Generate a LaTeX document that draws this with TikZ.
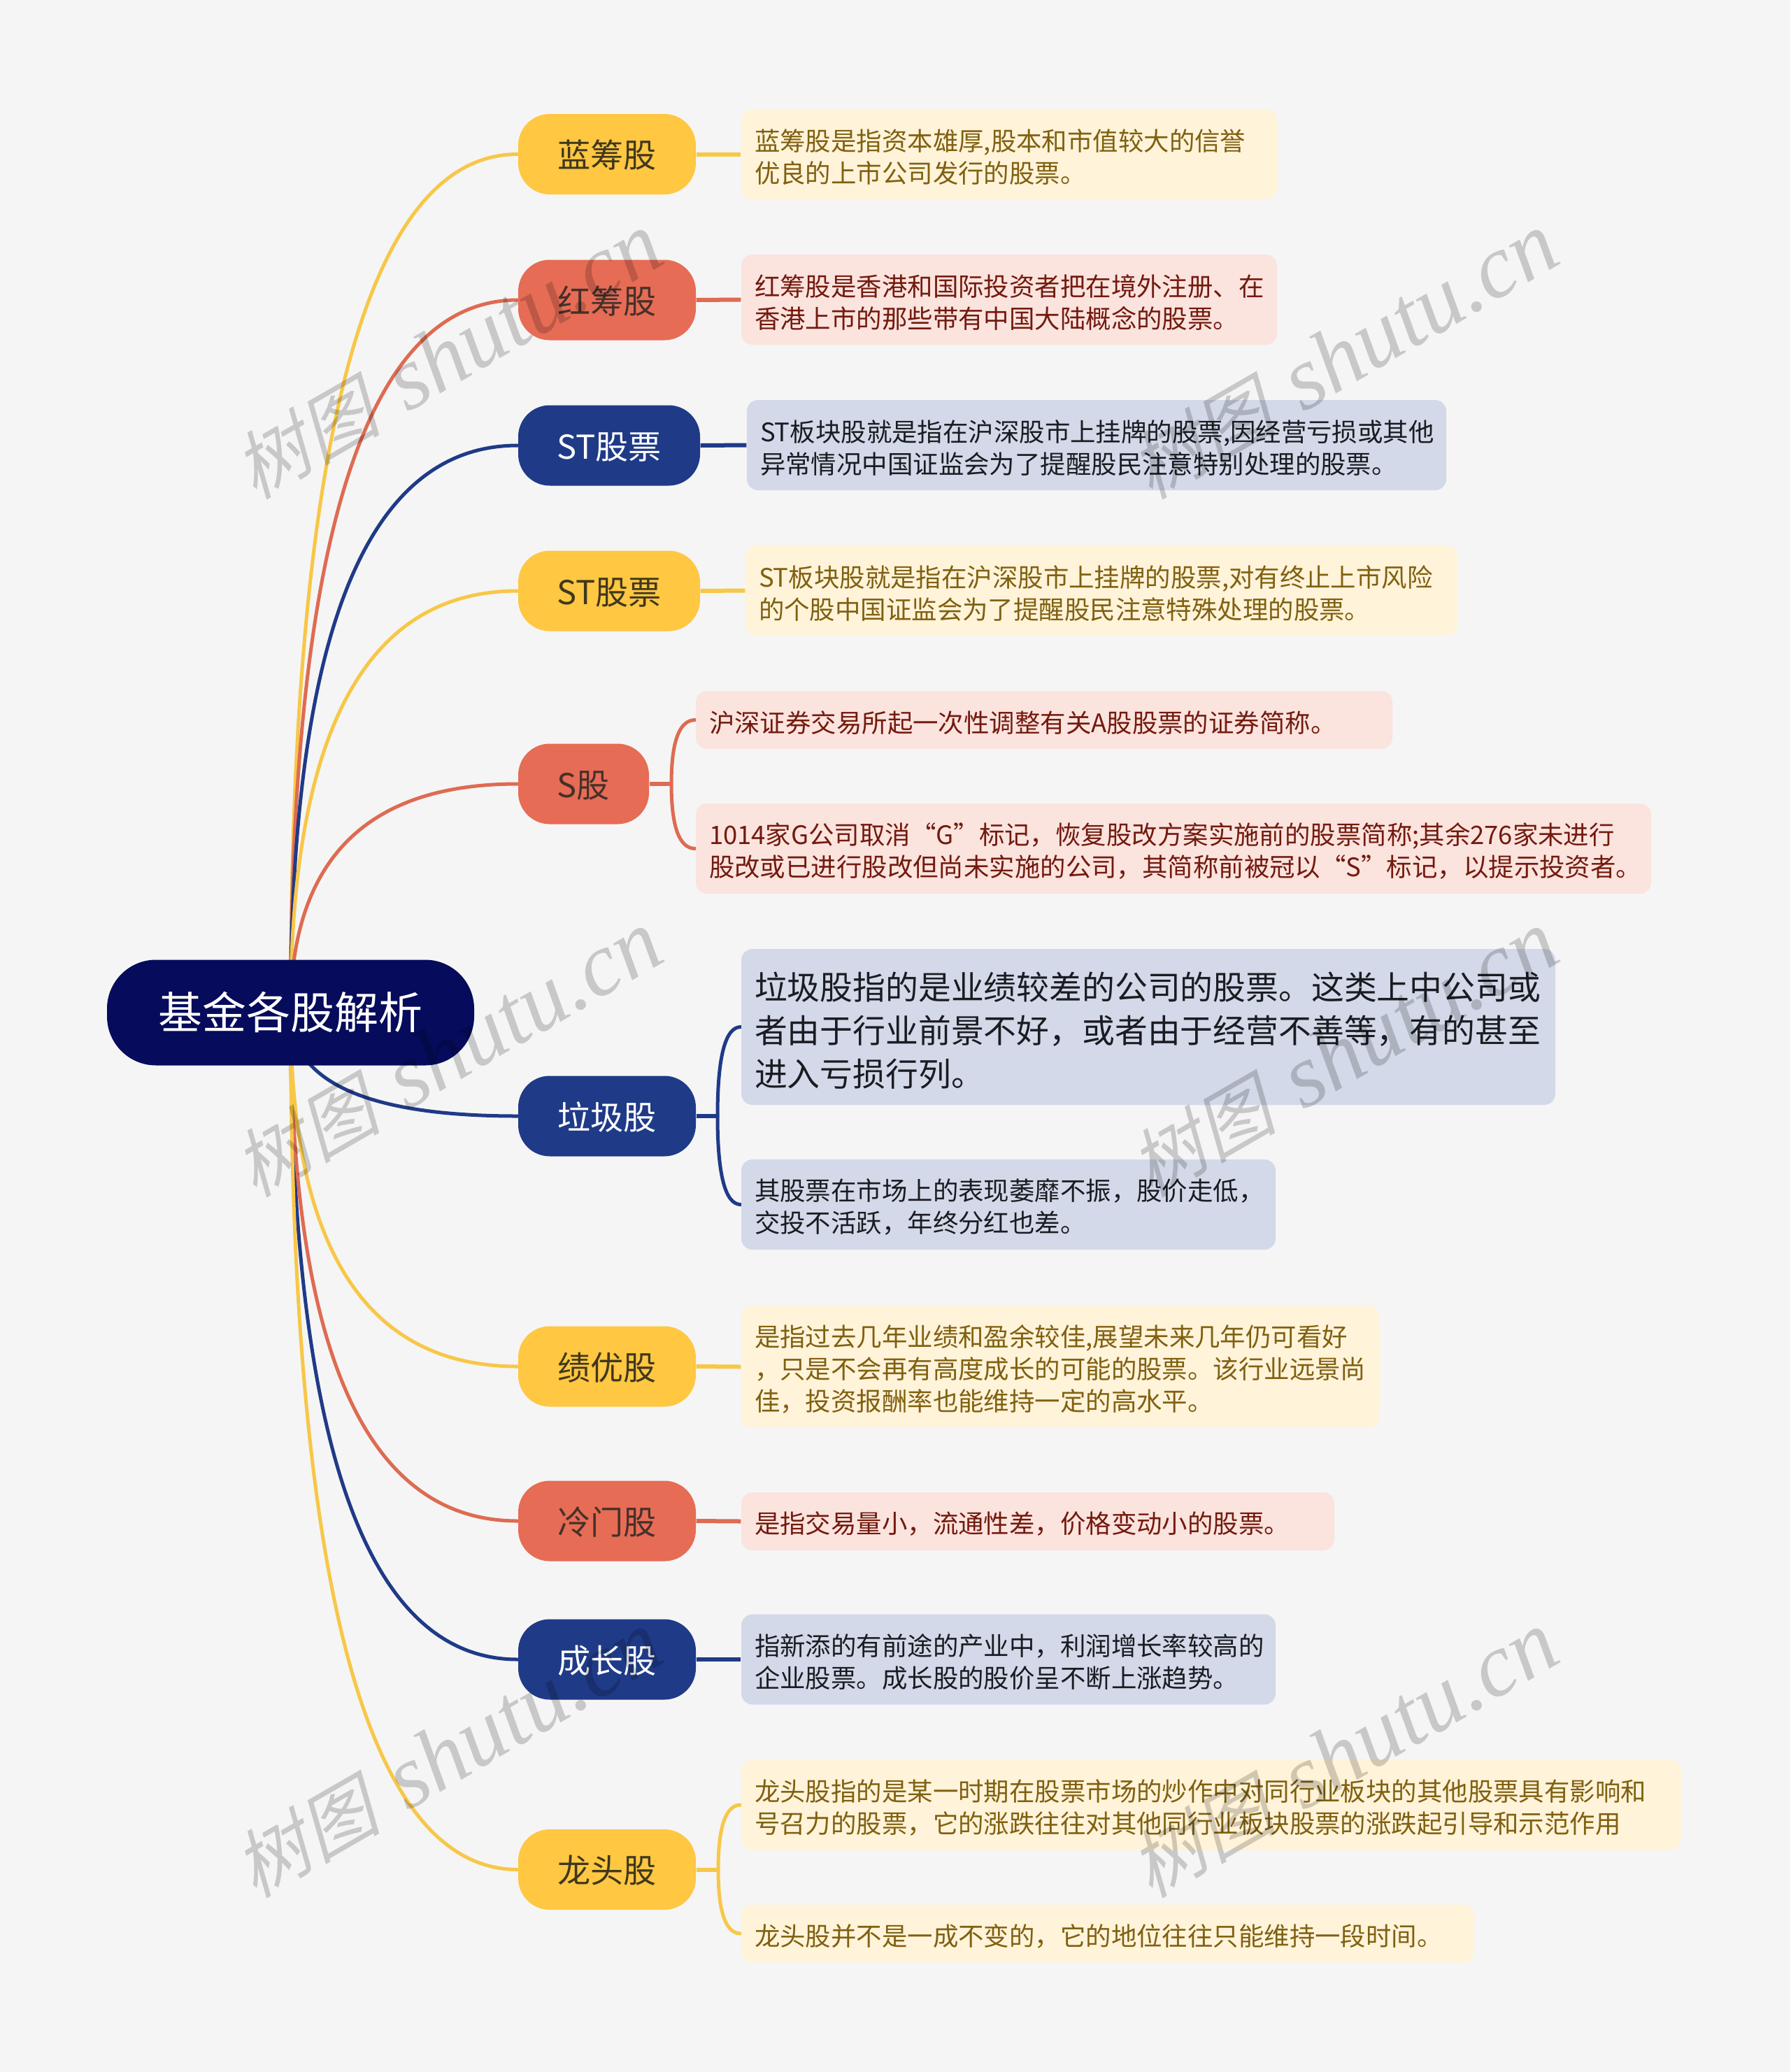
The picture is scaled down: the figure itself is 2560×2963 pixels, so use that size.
\documentclass[tikz,border=0pt]{standalone}
\usepackage{fontspec}
\setmainfont{Noto Sans CJK SC}
\newfontfamily\wmcjk[FakeSlant=0.25]{Noto Sans CJK SC}
\newfontfamily\wmlat{Liberation Serif}[ItalicFont=* Italic]
\usetikzlibrary{calc,backgrounds}
\definecolor{bgc}{HTML}{F5F5F5}
\definecolor{rootc}{HTML}{060B5B}
\definecolor{yel}{HTML}{FFC742}
\definecolor{yell}{HTML}{FFF3D9}
\definecolor{yelt}{HTML}{806010}
\definecolor{yeln}{HTML}{40381C}
\definecolor{red}{HTML}{E66C55}
\definecolor{redl}{HTML}{FBE3DE}
\definecolor{redt}{HTML}{731A0E}
\definecolor{redn}{HTML}{46302A}
\definecolor{nav}{HTML}{1F3A87}
\definecolor{navl}{HTML}{D3D9E8}
\definecolor{navt}{HTML}{1A1C22}
\definecolor{yelw}{HTML}{F7C748}
\definecolor{redw}{HTML}{DE6B52}
\tikzset{
 branch/.style n args={3}{draw=none,fill=#1,text=#2,minimum width=#3*0.01cm,minimum height=115*0.01cm,rounded corners=0.45cm,inner sep=0pt,text height=0.38cm,text depth=0cm,font=\fontsize{13.4}{16}\selectfont},
 leaf/.style n args={4}{fill=#1,text=#2,text width=#3*0.01cm-38*0.01cm,inner xsep=19*0.01cm,inner ysep=0pt,minimum height=#4*0.01cm,rounded corners=0.16cm,align=left,font=\fontsize{10.36}{13.09}\selectfont,execute at begin node={\rule{0pt}{1.05em}}},
 wire/.style={draw=#1,line width=0.05cm,line cap=round},
 stem/.style={draw=#1,line width=0.06cm},
 wmark/.style={text=black,opacity=0.18,rotate=30,inner sep=0pt},
}
% quadratic curve from #2 to #3 with control at (#2 |- #3)
\newcommand{\qcurve}[3]{\draw[wire=#1] (#2) .. controls ($(#2)!0.667!(#2 |- #3)$) and ($(#3)!0.667!(#2 |- #3)$) .. (#3);}
\newcommand{\wm}[1]{\node[wmark] at (#1) {{\fontsize{30}{34}\selectfont\wmcjk 树图}\hspace{0.4cm}{\fontsize{36.5}{34}\selectfont\wmlat\itshape shutu.cn}};}
\begin{document}
\begin{tikzpicture}[x=0.01cm,y=-0.01cm]
\useasboundingbox (0,0) rectangle (2560,2963);
\node[fill=rootc,text=white,minimum width=525*0.01cm,minimum height=151*0.01cm,rounded corners=0.7cm,inner sep=0pt,text height=0.47cm,text depth=0cm,font=\fontsize{17.9}{20}\selectfont] (root) at (415.5,1448) {基金各股解析};

\node[branch={yel}{yeln}{254}] (n1) at (868,220.5) {蓝筹股};
\node[branch={red}{redn}{254}] (n2) at (868,429) {红筹股};
\node[branch={nav}{white}{260}] (n3) at (871,637) {ST股票};
\node[branch={yel}{yeln}{260}] (n4) at (871,845) {ST股票};
\node[branch={red}{redn}{187}] (n5) at (834.5,1121) {S股};
\node[branch={nav}{white}{254}] (n6) at (868,1596) {垃圾股};
\node[branch={yel}{yeln}{254}] (n7) at (868,1954) {绩优股};
\node[branch={red}{redn}{254}] (n8) at (868,2175) {冷门股};
\node[branch={nav}{white}{254}] (n9) at (868,2373) {成长股};
\node[branch={yel}{yeln}{254}] (n10) at (868,2673.5) {龙头股};

\node[leaf={yell}{yelt}{766}{129}] (d1) at (1443,220.5) {蓝筹股是指资本雄厚,股本和市值较大的信誉\\优良的上市公司发行的股票。};
\node[leaf={redl}{redt}{766}{129}] (d2) at (1443,428.5) {红筹股是香港和国际投资者把在境外注册、在\\香港上市的那些带有中国大陆概念的股票。};
\node[leaf={navl}{navt}{1000}{129}] (d3) at (1568,636.5) {ST板块股就是指在沪深股市上挂牌的股票,因经营亏损或其他\\异常情况中国证监会为了提醒股民注意特别处理的股票。};
\node[leaf={yell}{yelt}{1018}{129}] (d4) at (1575,844.5) {ST板块股就是指在沪深股市上挂牌的股票,对有终止上市风险\\的个股中国证监会为了提醒股民注意特殊处理的股票。};
\node[leaf={redl}{redt}{996}{83}] (d5a) at (1493,1029.5) {沪深证券交易所起一次性调整有关A股股票的证券简称。};
\node[leaf={redl}{redt}{1366}{129}] (d5b) at (1678,1213.5) {1014家G公司取消“G”标记，恢复股改方案实施前的股票简称;其余276家未进行\\股改或已进行股改但尚未实施的公司，其简称前被冠以“S”标记，以提示投资者。};
\node[leaf={navl}{navt}{1164}{223},font=\fontsize{13.32}{17.64}\selectfont] (d6a) at (1642,1468.5) {垃圾股指的是业绩较差的公司的股票。这类上中公司或\\者由于行业前景不好，或者由于经营不善等，有的甚至\\进入亏损行列。};
\node[leaf={navl}{navt}{764}{129}] (d6b) at (1442,1722.5) {其股票在市场上的表现萎靡不振，股价走低，\\交投不活跃，年终分红也差。};
\node[leaf={yell}{yelt}{913}{175}] (d7) at (1516.5,1954.5) {是指过去几年业绩和盈余较佳,展望未来几年仍可看好\\，只是不会再有高度成长的可能的股票。该行业远景尚\\佳，投资报酬率也能维持一定的高水平。};
\node[leaf={redl}{redt}{848}{83}] (d8) at (1484,2175.5) {是指交易量小，流通性差，价格变动小的股票。};
\node[leaf={navl}{navt}{764}{129}] (d9) at (1442,2373) {指新添的有前途的产业中，利润增长率较高的\\企业股票。成长股的股价呈不断上涨趋势。};
\node[leaf={yell}{yelt}{1344}{129}] (d10a) at (1732,2581) {龙头股指的是某一时期在股票市场的炒作中对同行业板块的其他股票具有影响和\\号召力的股票，它的涨跌往往对其他同行业板块股票的涨跌起引导和示范作用};
\node[leaf={yell}{yelt}{1048}{83}] (d10b) at (1584,2765) {龙头股并不是一成不变的，它的地位往往只能维持一段时间。};

\coordinate (j5) at (960,1121);
\coordinate (j6) at (1026,1596);
\coordinate (j10) at (1027,2673.5);

\begin{scope}[on background layer]
\fill[bgc] (0,0) rectangle (2560,2963);
\qcurve{yelw}{root.center}{n1.west}
\qcurve{redw}{root.center}{n2.west}
\qcurve{nav}{root.center}{n3.west}
\qcurve{yelw}{root.center}{n4.west}
\qcurve{redw}{root.center}{n5.west}
\qcurve{nav}{root.center}{n6.west}
\qcurve{nav}{root.center}{n9.west}
\qcurve{redw}{root.center}{n8.west}
\qcurve{yelw}{root.center}{n7.west}
\qcurve{yelw}{root.center}{n10.west}
\draw[stem=yelw] (n1.east) -- (d1.west);
\draw[stem=redw] (n2.east) -- (d2.west);
\draw[stem=nav] (n3.east) -- (d3.west);
\draw[stem=yelw] (n4.east) -- (d4.west);
\draw[stem=yelw] (n7.east) -- (d7.west);
\draw[stem=redw] (n8.east) -- (d8.west);
\draw[stem=nav] (n9.east) -- (d9.west);
\draw[stem=redw] (n5.east) -- (j5);
\draw[stem=nav] (n6.east) -- (j6);
\draw[stem=yelw] (n10.east) -- (j10);
\qcurve{redw}{j5}{d5a.west}
\qcurve{redw}{j5}{d5b.west}
\qcurve{nav}{j6}{d6a.west}
\qcurve{nav}{j6}{d6b.west}
\qcurve{yelw}{j10}{d10a.west}
\qcurve{yelw}{j10}{d10b.west}
\end{scope}

\wm{640,510}
\wm{1921,510}
\wm{640,1508}
\wm{1921,1508}
\wm{640,2510}
\wm{1921,2510}
\end{tikzpicture}
\end{document}
